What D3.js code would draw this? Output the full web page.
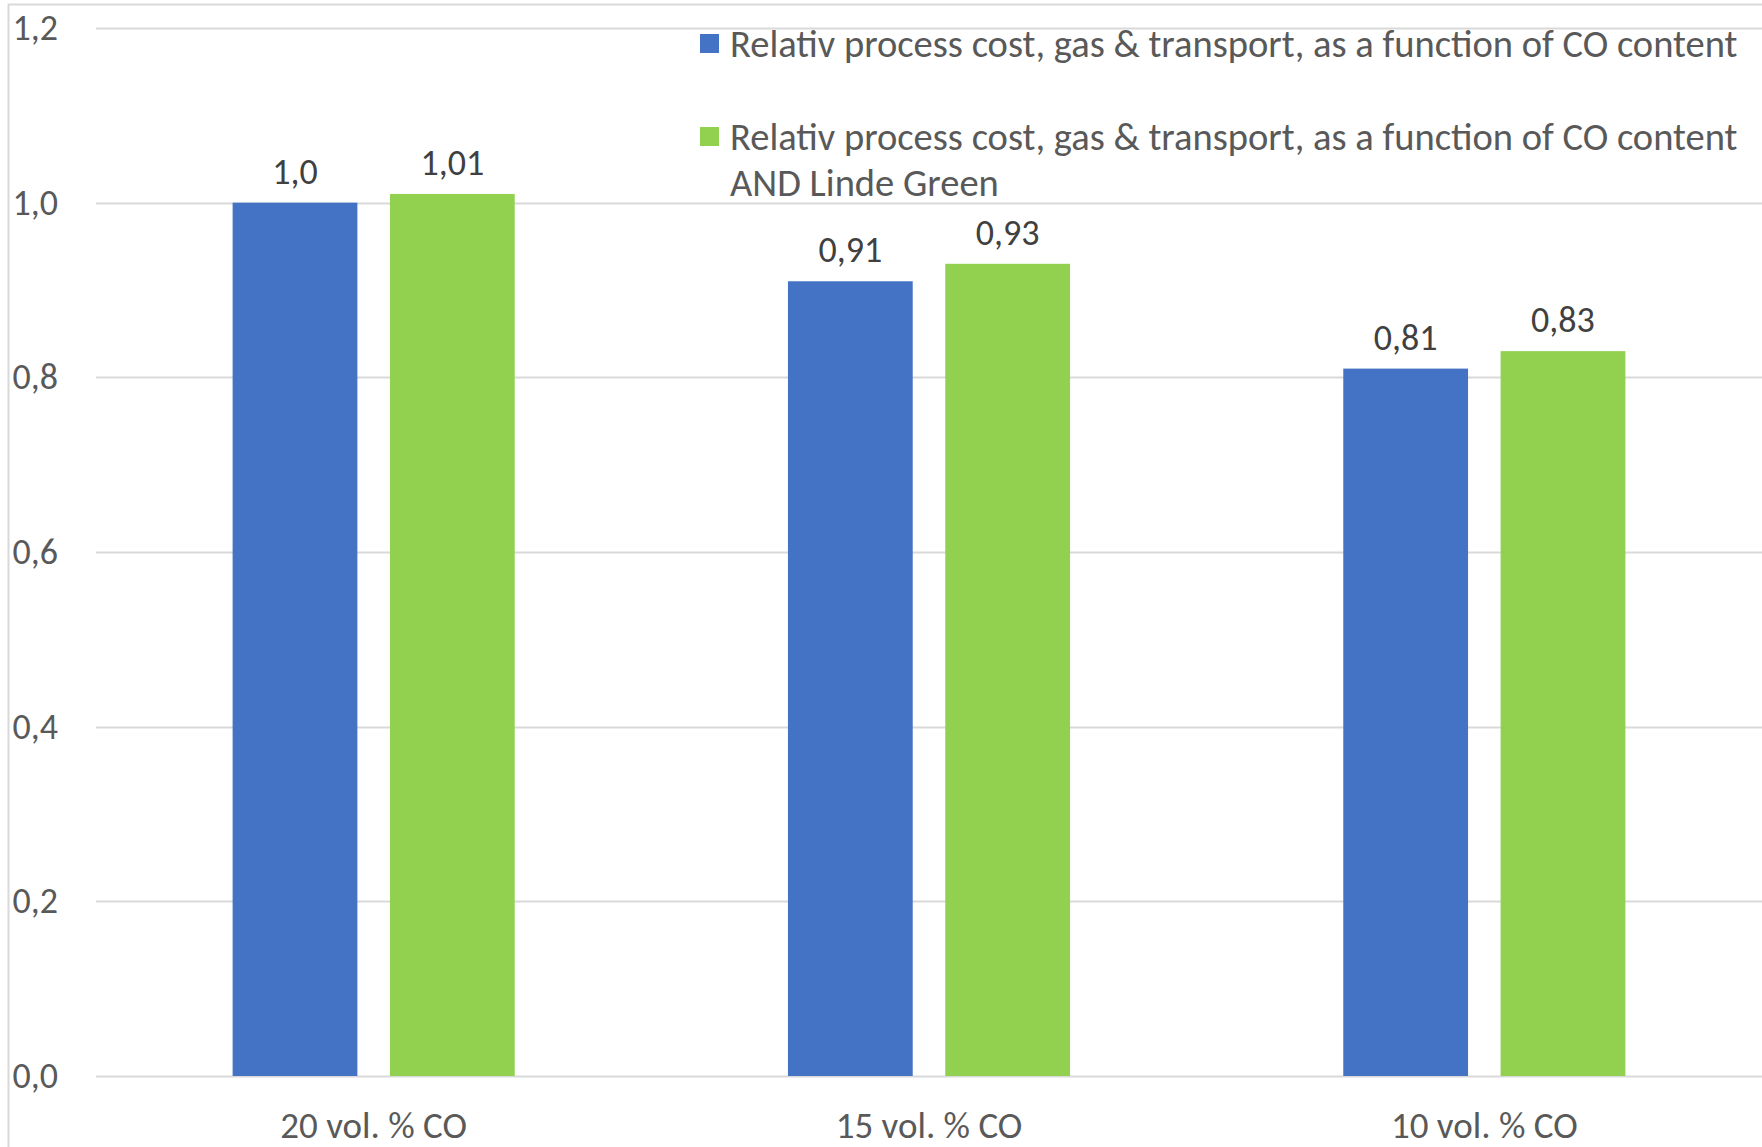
<!DOCTYPE html>
<html>
<head>
<meta charset="utf-8">
<script src="https://cdn.jsdelivr.net/npm/d3@7"></script>
<style>
  html, body { margin: 0; padding: 0; background: #fff; }
  svg { display: block; }
  text { font-family: Carlito, Calibri, Lato, "Open Sans", sans-serif; }
</style>
</head>
<body>
<svg id="chart" width="1762" height="1147"></svg>
<script>
// Categories, series and values
const categories = ["20 vol. % CO", "15 vol. % CO", "10 vol. % CO"];
const seriesNames = [
  "Relativ process cost, gas & transport, as a function of CO content",
  "Relativ process cost, gas & transport, as a function of CO content AND Linde Green"
];
const costByCO = [1.0, 0.91, 0.81];
const costByCOLindeGreen = [1.01, 0.93, 0.83];
const labelsByCO = ["1,0", "0,91", "0,81"];
const labelsLindeGreen = ["1,01", "0,93", "0,83"];
const yTicks = [0, 0.2, 0.4, 0.6, 0.8, 1.0, 1.2];
const seriesColors = ["#4472C4", "#92D050"];

const W = 1762, H = 1147;
const plot = { left: 96, right: 1762, top: 28, bottom: 1076 };

const svg = d3.select("#chart");

// chart-area border
svg.append("rect")
  .attr("x", 8.5).attr("y", 4.5)
  .attr("width", W + 20).attr("height", H + 20)
  .attr("fill", "#fff").attr("stroke", "#d9d9d9").attr("stroke-width", 2);

const y = d3.scaleLinear().domain([0, 1.2]).range([plot.bottom, plot.top]);
const x0 = d3.scaleBand().domain(categories).range([plot.left, plot.right]).paddingInner(0).paddingOuter(0);
const groupWidth = x0.bandwidth() * 0.508;
const x1 = d3.scaleBand().domain([0, 1]).range([0, groupWidth]).paddingInner(0.207).paddingOuter(0);

// gridlines
svg.append("g").selectAll("line").data(yTicks).join("line")
  .attr("x1", plot.left).attr("x2", plot.right)
  .attr("y1", d => Math.round(y(d)) + 0.5).attr("y2", d => Math.round(y(d)) + 0.5)
  .attr("stroke", "#d9d9d9").attr("stroke-width", 2);

// y-axis labels
const fmt = d => d.toFixed(1).replace(".", ",");
svg.append("g").selectAll("text").data(yTicks).join("text")
  .attr("x", 58).attr("y", d => y(d))
  .attr("text-anchor", "end").attr("dominant-baseline", "central")
  .attr("font-size", 36).attr("fill", "#595959")
  .text(fmt);

// bars
const rows = categories.map((c, i) => ({
  cat: c,
  vals: [
    { s: 0, v: costByCO[i], label: labelsByCO[i] },
    { s: 1, v: costByCOLindeGreen[i], label: labelsLindeGreen[i] }
  ]
}));

const groups = svg.append("g").selectAll("g").data(rows).join("g")
  .attr("transform", d => `translate(${x0(d.cat) + (x0.bandwidth() - groupWidth) / 2},0)`);

groups.selectAll("rect").data(d => d.vals).join("rect")
  .attr("x", d => x1(d.s)).attr("width", x1.bandwidth())
  .attr("y", d => y(d.v)).attr("height", d => y(0) - y(d.v))
  .attr("fill", d => seriesColors[d.s]);

groups.selectAll("text").data(d => d.vals).join("text")
  .attr("x", d => x1(d.s) + x1.bandwidth() / 2)
  .attr("y", d => y(d.v) - 19)
  .attr("text-anchor", "middle")
  .attr("font-size", 36).attr("fill", "#404040")
  .text(d => d.label);

// category labels
svg.append("g").selectAll("text").data(categories).join("text")
  .attr("x", d => x0(d) + x0.bandwidth() / 2).attr("y", 1138)
  .attr("text-anchor", "middle")
  .attr("font-size", 37).attr("fill", "#595959")
  .text(d => d);

// legend
const legend = svg.append("g");
const legendItems = [
  { color: seriesColors[0], lines: [seriesNames[0]], y: 43 },
  { color: seriesColors[1], lines: [seriesNames[1].replace(" AND Linde Green", ""), "AND Linde Green"], y: 136 }
];
const legendTextX = 730, legendTargetWidth = 1008, lineGap = 46;
let legendFont = 32;
legendItems.forEach(item => {
  legend.append("rect")
    .attr("x", 700).attr("y", item.y - 9).attr("width", 19).attr("height", 19)
    .attr("fill", item.color);
  item.lines.forEach((ln, j) => {
    legend.append("text")
      .attr("class", "legend-line")
      .attr("x", legendTextX).attr("y", item.y + j * lineGap)
      .attr("dominant-baseline", "central")
      .attr("font-size", legendFont).attr("fill", "#595959")
      .text(ln);
  });
});
// fit the legend text to its available width
const firstLine = legend.select("text.legend-line").node();
const measured = firstLine.getComputedTextLength();
legendFont = legendFont * legendTargetWidth / measured;
legend.selectAll("text.legend-line").attr("font-size", legendFont);
</script>
</body>
</html>
